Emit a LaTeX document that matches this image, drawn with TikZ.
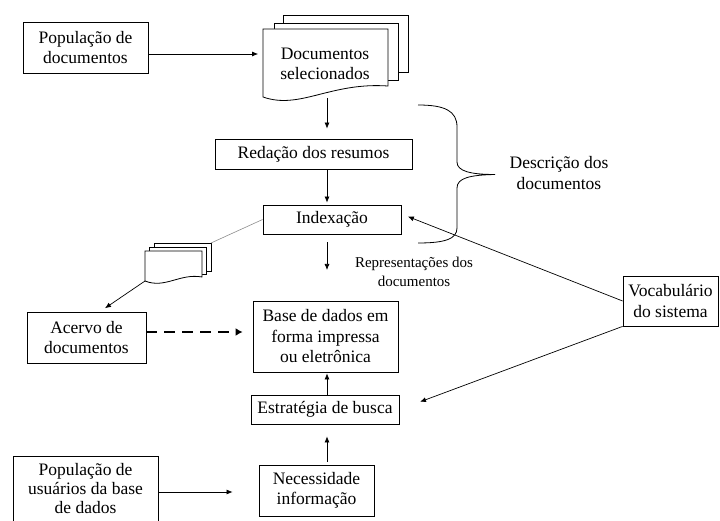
\documentclass[tikz,border=0pt]{standalone}
\usepackage{fontspec}
\setmainfont{Liberation Serif}
\usetikzlibrary{arrows.meta}
\begin{document}
\begin{tikzpicture}[x=1pt,y=-1pt,
  box/.style={draw, line width=0.8pt, align=center, inner sep=0pt, font=\fontsize{17.5}{20.5}\selectfont},
  txt/.style={align=center, inner sep=0pt, font=\fontsize{17.5}{20.5}\selectfont},
  smalltxt/.style={align=center, inner sep=0pt, font=\fontsize{15}{18.5}\selectfont},
  arr/.style={line width=0.7pt, -{Latex[length=6pt,width=5pt]}},
  dasharr/.style={line width=2.4pt, dash pattern=on 11pt off 7pt, -{Latex[length=7pt,width=8pt]}},
  docpage/.style={draw, line width=0.8pt, fill=white},
  thin/.style={draw=black!45, line width=0.6pt}]
\useasboundingbox (0,0) rectangle (720,521);

% boxes
\node[box, minimum width=125pt, minimum height=51pt] (popdoc) at (85.5,47.5) {População de\\documentos};
\node[box, minimum width=197pt, minimum height=30pt] (redacao) at (313.5,154) {Redação dos resumos};
\node[box, minimum width=138pt, minimum height=29pt] (index) at (332,219.5) {Indexação};
\node[box, minimum width=145pt, minimum height=71pt] (base) at (325.5,336.5) {Base de dados em\\forma impressa\\ou eletrônica};
\node[box, minimum width=148pt, minimum height=29pt] (estrat) at (325,409.5) {Estratégia de busca};
\node[box, minimum width=115pt, minimum height=51pt] (necess) at (316.5,490.5) {Necessidade\\informação};
\node[box, minimum width=119pt, minimum height=51pt] (acervo) at (86.5,337.5) {Acervo de\\documentos};
\node[box, minimum width=95pt, minimum height=50pt] (vocab) at (670.5,301) {Vocabulário\\do sistema};
\node[box, minimum width=145pt, minimum height=74pt] (popusr) at (85.5,493) {};
\node[txt, font=\fontsize{17.5}{19}\selectfont] (popusrtxt) at (85.5,488.5) {População de\\usuários da base\\de dados};

% top document stack
\path[docpage] (283,15) rectangle (408,72);
\path[docpage] (274,23) rectangle (398,80);
\path[docpage] (263,29) -- (388,29) -- (388,86) .. controls (330,82) and (300,110) .. (263,97) -- cycle;
\node[txt] (docs) at (325,64) {Documentos\\selecionados};
\coordinate (docbot) at (327,98);

% small document stack
\path[docpage] (154,243) rectangle (211,271);
\path[docpage] (149,247) rectangle (206,274);
\path[docpage] (145,251) -- (202,251) -- (202,277) .. controls (180,273) and (165,289) .. (145,281) -- cycle;
\coordinate (sdtop) at (211,243);
\coordinate (sdbot) at (145,281);

% texts
\node[smalltxt] (repr) at (414,272) {Representações dos\\documentos};
\node[txt] (descr) at (559,173) {Descrição dos\\documentos};

% brace
\draw[line width=0.8pt] (418,105) .. controls (445,105) and (457,111) .. (457,127) -- (457,162)
  .. controls (457,171) and (470,174.5) .. (495,174.5)
  .. controls (470,175) and (457,178) .. (457,188) -- (457,228)
  .. controls (457,239) and (445,243) .. (418,243);

% connectors
\draw[arr, shorten >=22pt] ([yshift=-6.5pt]popdoc.east) -- ([yshift=-6.5pt]popdoc.east -| docs.west);
\draw[arr, shorten >=10pt] (docbot) -- (redacao.north -| docbot);
\draw[arr, shorten >=2pt] (redacao.south -| docbot) -- (index.north -| docbot);
\coordinate (reprarrow) at (327,270);
\draw[arr, shorten <=8pt] (index.south -| reprarrow) -- (reprarrow);
\draw[arr, shorten >=7pt] (vocab.west) -- ([yshift=5.5pt]index.east);
\draw[arr, shorten >=22pt] (vocab.south west) -- (estrat.east);
\draw[arr, shorten >=1pt] (estrat.north -| docbot) -- (base.south -| docbot);
\draw[arr, shorten <=3pt, shorten >=12pt] (necess.north -| docbot) -- (estrat.south -| docbot);
\draw[arr, shorten >=26pt] ([yshift=1pt]popusr.east) -- ([yshift=1pt]popusr.east -| necess.west);
\draw[dasharr, shorten >=10pt] ([yshift=5.5pt]acervo.east) -- ([yshift=5.5pt]acervo.east -| base.west);
\draw[arr, shorten >=6pt] (sdbot) -- ([xshift=13.5pt]acervo.north);
\draw[thin] (index.west) -- (sdtop);
\end{tikzpicture}
\end{document}
